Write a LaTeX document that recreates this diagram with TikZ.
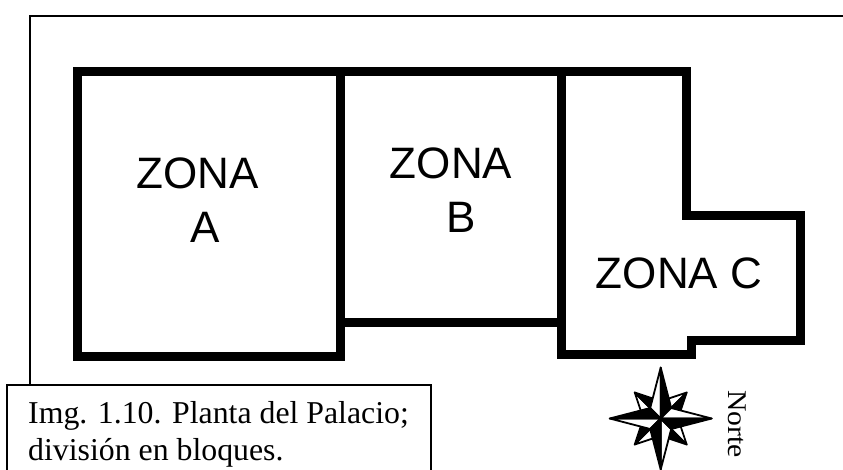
\documentclass[tikz,border=0pt]{standalone}
\usepackage{fontspec}
\setmainfont{Liberation Serif}
\setsansfont{Liberation Sans}
\tikzset{
  x=1pt,y=-1pt,
  wall/.style={line width=9pt,line join=miter,line cap=square},
  framel/.style={line width=2pt},
  zona/.style={font=\sffamily\fontsize{44}{50}\selectfont,inner sep=0pt,anchor=base},
  caption/.style={font=\fontsize{31.8}{37}\selectfont,inner sep=0pt,anchor=base west},
  rose/.style={draw=black,line width=1.8pt,line join=round},
}
\begin{document}
\begin{tikzpicture}
\useasboundingbox (0,0) rectangle (843,469);
\clip (0,0) rectangle (843,469);
\draw[framel] (30,384) -- (30,15.5) -- (843,15.5);
\draw[wall] (340,71) -- (77,71) -- (77,356) -- (340,356) -- cycle;
\draw[wall] (340,71) -- (561,71) -- (561,354) -- (691,354) -- (691,340) -- (800,340) -- (800,215) -- (686,215) -- (686,71) -- (561,71);
\draw[wall] (340,322) -- (561,322);
\node[zona] (za) at (197.5,188) {ZONA};
\node[zona] (zaa) at (205.5,242) {A};
\node[zona] (zb) at (451,178) {ZONA};
\node[zona] (zbb) at (461,232) {B};
\node[zona] (zc) at (679,288) {ZONA C};
\draw[framel,fill=white] (6.5,384.5) -- (430.5,384.5) -- (430.5,480) -- (6.5,480) -- cycle;
\node[caption] (c1) at (28,423) {Img. 1.10. Planta del Palacio;};
\node[caption] (c2) at (28,460) {división en bloques.};
\begin{scope}[shift={(660.7,418.5)}]
  \foreach \a in {0,90,180,270} {
    \begin{scope}[rotate=\a]
      \fill[rose,fill=white] (-26,-26) -- (-20,-8) -- (0,0) -- cycle;
      \fill[rose,fill=black] (-26,-26) -- (-8,-20) -- (0,0) -- cycle;
    \end{scope}
  }
  \foreach \a in {0,90,180,270} {
    \begin{scope}[rotate=\a]
      \fill[rose,fill=white] (0,-51) -- (-10.5,-10.5) -- (0,0) -- cycle;
      \fill[rose,fill=black] (0,-51) -- (10.5,-10.5) -- (0,0) -- cycle;
    \end{scope}
  }
\end{scope}
\begin{scope}
  \clip (715,380) rectangle (760,458);
  \node[font=\fontsize{27}{27}\selectfont,inner sep=0pt,rotate=-90,anchor=base west] (norte) at (728,390) {\scalebox{1.1}[1]{Norte}};
\end{scope}
\end{tikzpicture}
\end{document}
